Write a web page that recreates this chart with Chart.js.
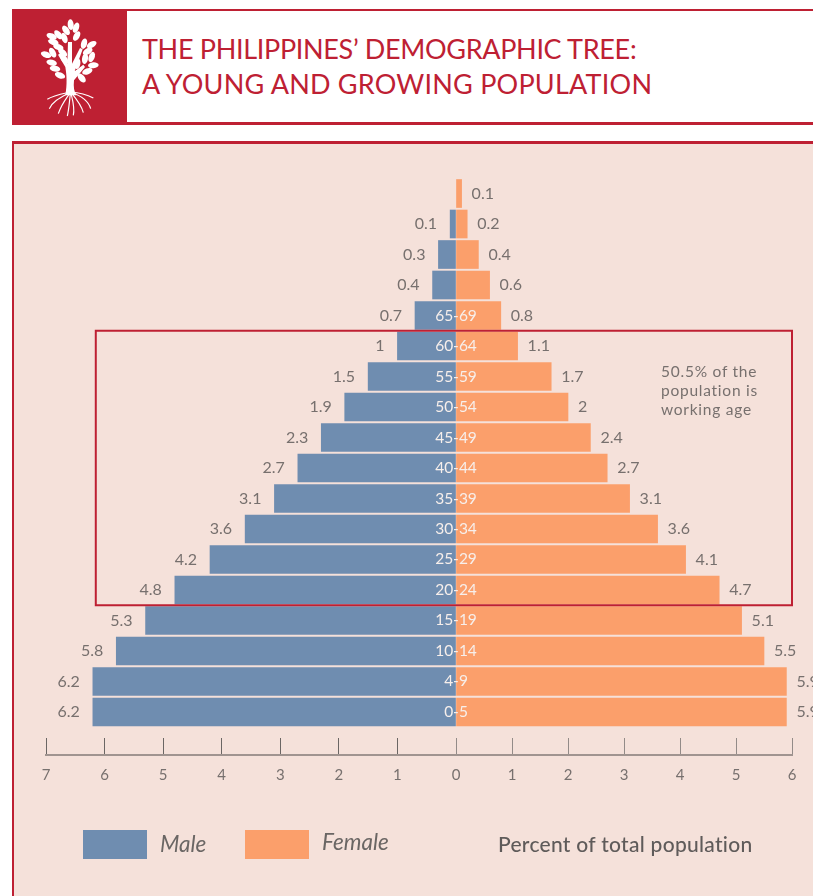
<!DOCTYPE html>
<html>
<head>
<meta charset="utf-8">
<title>The Philippines' demographic tree</title>
<script src="https://cdn.jsdelivr.net/npm/chart.js@4"></script>
<style>
  html, body { margin: 0; padding: 0; width: 813px; height: 896px; overflow: hidden; background: #fff; font-family: Lato, sans-serif; }
  .abs { position: absolute; white-space: nowrap; }
  #header { left: 12px; top: 9px; width: 801px; height: 116px; box-sizing: border-box; border-top: 2px solid #be2033; border-bottom: 3px solid #be2033; }
  #logo { left: 12px; top: 9px; width: 115px; height: 116px; background: #be2033; }
  #logo svg { position: absolute; left: 18px; top: 3px; }
  .title { left: 142px; color: #be2033; font-size: 27px; line-height: 34px; }
  #panel { left: 12px; top: 141px; width: 801px; height: 755px; box-sizing: border-box; background: #f5e1da; border-top: 3px solid #be2033; border-left: 2px solid #be2033; }
  #c { position: absolute; left: 0; top: 0; }
  .note { left: 661px; color: #77706e; font-size: 15.5px; line-height: 19px; letter-spacing: 0.75px; }
  .swatch { top: 830px; width: 64px; height: 29px; }
  .leg { color: #6a6664; font-size: 22.5px; font-style: italic; line-height: 24px; }
  #axisTitle { left: 498px; top: 832px; color: #5f5b5a; font-size: 21px; font-weight: 500; line-height: 24px; letter-spacing: 0.28px; }
</style>
</head>
<body>
<div class="abs" id="panel"></div>
<div class="abs" id="header"></div>
<div class="abs" id="logo">
  <svg id="tree" width="80" height="106" viewBox="0 0 240 318"></svg>
</div>
<div class="abs title" style="top:32px;letter-spacing:-0.32px">THE PHILIPPINES’ DEMOGRAPHIC TREE:</div>
<div class="abs title" style="top:67px;letter-spacing:0.22px">A YOUNG AND GROWING POPULATION</div>
<canvas id="c" width="813" height="896"></canvas>
<div class="abs note" style="top:362px">50.5% of the</div>
<div class="abs note" style="top:381px">population is</div>
<div class="abs note" style="top:400px">working age</div>
<div class="abs swatch" style="left:83px;background:#6f8db0"></div>
<div class="abs leg" style="left:160px;top:832px">Male</div>
<div class="abs swatch" style="left:245px;background:#fb9f6b"></div>
<div class="abs leg" style="left:322px;top:830px">Female</div>
<div class="abs" id="axisTitle">Percent of total population</div>
<script>
'use strict';

// youngest row first, the four oldest rows carry no label in the source
const AGE_GROUPS = ['0-5', '4-9', '10-14', '15-19', '20-24', '25-29', '30-34', '35-39', '40-44', '45-49', '50-54', '55-59', '60-64', '65-69', '', '', '', ''];
const MALE   = [6.2, 6.2, 5.8, 5.3, 4.8, 4.2, 3.6, 3.1, 2.7, 2.3, 1.9, 1.5, 1, 0.7, 0.4, 0.3, 0.1, null];
const FEMALE = [5.9, 5.9, 5.5, 5.1, 4.7, 4.1, 3.6, 3.1, 2.7, 2.4, 2, 1.7, 1.1, 0.8, 0.6, 0.4, 0.2, 0.1];
const ROWS = AGE_GROUPS.map((_, i) => i);

const RED = '#be2033';
const VALUE_FONT = '16px Lato, sans-serif';
const AGE_FONT = '15.5px Lato, sans-serif';

// ── Plugin: value labels, age labels, working age box ─────────────
const pyramidLabels = {
  id: 'pyramidLabels',
  afterDatasetsDraw(chart) {
    const { ctx, scales: { xM, xF, y } } = chart;
    ctx.save();
    ctx.textBaseline = 'middle';
    ROWS.forEach(i => {
      const py = y.getPixelForValue(i);
      ctx.font = VALUE_FONT;
      ctx.fillStyle = '#77706e';
      if (MALE[i] != null) {
        ctx.textAlign = 'right';
        ctx.fillText(String(MALE[i]), xM.getPixelForValue(MALE[i]) - 13, py);
      }
      ctx.textAlign = 'left';
      ctx.fillText(String(FEMALE[i]), xF.getPixelForValue(FEMALE[i]) + 10, py);
      ctx.font = AGE_FONT;
      ctx.textAlign = 'center';
      ctx.fillStyle = '#f7efeb';
      ctx.fillText(AGE_GROUPS[i], xF.getPixelForValue(0), py);
    });
    // rows 20-24 up to 60-64
    const x0 = xM.getPixelForValue(6.15), x1 = xF.getPixelForValue(6);
    const y0 = y.getPixelForValue(12.5), y1 = y.getPixelForValue(3.5);
    ctx.strokeStyle = RED;
    ctx.lineWidth = 2;
    ctx.strokeRect(x0, y0, x1 - x0, y1 - y0);
    ctx.restore();
  },
};

// ── Chart ─────────────────────────────────────────────────────────
function xAxis(max, stackWeight, reverse, tickColor, hideZero) {
  return {
    type: 'linear',
    position: 'bottom',
    stack: 'pct',
    stackWeight,
    reverse,
    min: 0,
    max,
    afterFit: s => { s.height = 28; s.paddingLeft = 0; s.paddingRight = 0; },
    border: { display: true, color: '#a09490', width: 2 },
    grid: { drawOnChartArea: false, color: tickColor, lineWidth: 1, tickLength: -17 },
    ticks: {
      stepSize: 1,
      color: '#77706e',
      font: { family: 'Lato, sans-serif', size: 15 },
      padding: 28,
      maxRotation: 0,
      autoSkip: false,
      callback: v => (hideZero && v === 0 ? '' : v),
    },
  };
}

new Chart(document.getElementById('c').getContext('2d'), {
  type: 'bar',
  data: {
    labels: ROWS,
    datasets: [
      { label: 'Male', data: MALE, xAxisID: 'xM', backgroundColor: '#6f8db0', grouped: false, barThickness: 28 },
      { label: 'Female', data: FEMALE, xAxisID: 'xF', backgroundColor: '#fb9f6b', grouped: false, barThickness: 28 },
    ],
  },
  plugins: [pyramidLabels],
  options: {
    indexAxis: 'y',
    responsive: false,
    animation: false,
    layout: { padding: { left: 46, right: 21, top: 176, bottom: 113 } },
    scales: {
      y: { type: 'linear', display: false, offset: false, min: -1.41, max: 17.574 },
      xM: xAxis(7, 410, true, '#6b6664', false),
      xF: xAxis(6, 336, false, '#938b88', true),
    },
    plugins: { legend: { display: false }, tooltip: { enabled: false } },
  },
});

// ── Logo ──────────────────────────────────────────────────────────
const LEAVES = [
  [122, 38, -5], [138, 47, 20], [108, 55, -35], [85, 68, -40], [140, 72, 30], [65, 73, -70],
  [103, 78, -20], [70, 90, -75], [85, 105, -70], [162, 95, 15], [185, 98, 60], [48, 128, -70],
  [68, 122, -30], [98, 122, -50], [173, 118, 60], [103, 142, -35], [65, 152, -75], [142, 155, 10],
  [165, 140, 10], [185, 135, 20], [190, 160, 85], [75, 170, -80], [90, 190, -70], [172, 178, 70],
  [155, 198, -40],
];
const TREE_PATHS = [
  'M106 250 C112 215 110 190 106 165 L84 128 L92 124 L112 155 L114 90 L126 90 L126 155 L150 108 L158 112 L134 178 L160 158 L165 165 L132 205 C130 225 132 240 140 250 Z',
];
const ROOT_PATHS = [
  'M122 240 C100 245 70 250 52 262', 'M122 240 C95 255 70 265 58 290', 'M122 240 C105 265 95 275 85 305',
  'M122 240 C118 265 118 285 112 312', 'M122 240 C128 265 135 285 130 310', 'M122 240 C140 262 155 280 160 302',
  'M122 240 C150 250 175 265 182 290', 'M122 240 C150 242 175 250 190 258',
];
const tree = document.getElementById('tree');
tree.innerHTML =
  ROOT_PATHS.map(d => `<path d="${d}" fill="none" stroke="#fff" stroke-width="3.5"/>`).join('') +
  TREE_PATHS.map(d => `<path d="${d}" fill="#fff"/>`).join('') +
  LEAVES.map(([x, y, r]) => `<ellipse cx="${x}" cy="${y}" rx="9" ry="16" fill="#fff" transform="rotate(${r} ${x} ${y})"/>`).join('');
</script>
</body>
</html>
